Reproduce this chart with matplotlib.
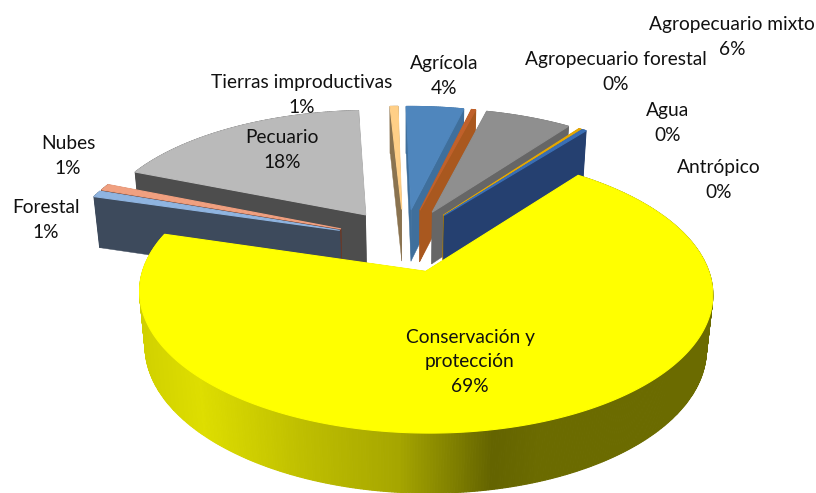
import numpy as np
import matplotlib
matplotlib.use("Agg")
import matplotlib.pyplot as plt
from matplotlib.patches import Polygon
from matplotlib.colors import to_rgb

# data, clockwise from the top of the pie
names = ["Agrícola", "Agropecuario forestal", "Agropecuario mixto", "Agua", "Antrópico",
         "Conservación y\nprotección", "Forestal", "Nubes", "Pecuario", "Tierras improductivas"]
values = [4.0, 0.3, 6.0, 0.2, 0.3, 69.05, 0.8, 0.8, 18.0, 0.55]

# colours of top face and of side walls
tops = ["#4f86bd", "#c0612b", "#8f8f8f", "#e6a800", "#3a6fb5",
        "#ffff00", "#8fb4e0", "#f0a080", "#bababa", "#ffcf87"]
walls = ["#3f6f9c", "#a9581f", "#666666", "#a87c08", "#254070",
         "#8c8c00", "#3d4a5c", "#6b3a28", "#4d4d4d", "#8a7350"]
# where each label sits, pixels
label_pos = [(444, 76), (616, 72), (732, 37), (668, 123), (719, 180),
             (470, 362), (46, 220), (68, 156), (282, 150), (302, 95)]

# camera
OX, OY = 404, 240
A, B = 273, 127
K = 0.15
M = 0.02
H = 54
EXPLODE = 0.25
START = 91.0


def project(x, y, z):
    # z=0 is the top face, z=1 the bottom
    s = 1 / (1 + K * y + M * z)
    return OX + A * x * s, OY - B * y * s + H * z * s


def yellow_shade(px):
    stops_x = [140, 200, 300, 400, 495, 540, 710]
    levels = [0.82, 0.87, 0.75, 0.65, 0.39, 0.42, 0.42]
    v = np.interp(px, stops_x, levels)
    return (v, v, 0)


fig = plt.figure(figsize=(8.16, 4.93), dpi=100)
ax = fig.add_axes([0, 0, 1, 1])
ax.set_xlim(0, 816)
ax.set_ylim(493, 0)
ax.axis("off")

# slice angles
angles = START - np.cumsum([0] + values) * 3.6
slices = []
for i in range(len(values)):
    t0, t1 = angles[i], angles[i + 1]
    slices.append((np.sin(np.radians((t0 + t1) / 2)), i, t0, t1))
# back slices first, the big one last
slices.sort(key=lambda r: (values[r[1]] > 50, -r[0]))

for _, i, t0, t1 in slices:
    mid = np.radians((t0 + t1) / 2)
    cx, cy = EXPLODE * np.cos(mid), EXPLODE * np.sin(mid)
    n = max(3, int(abs(t0 - t1)) * 2)
    th = np.radians(np.linspace(t0, t1, n))
    rx, ry = cx + np.cos(th), cy + np.sin(th)
    wall = walls[i]

    # flat side walls
    for k in (0, -1):
        pts = [project(cx, cy, 0), project(rx[k], ry[k], 0), project(rx[k], ry[k], 1), project(cx, cy, 1)]
        ax.add_patch(Polygon(pts, closed=True, fc=wall, ec=wall, lw=0.3))

    # rim, in small strips so the gradient can run along it
    for j in range(n - 1):
        pts = [project(rx[j], ry[j], 0), project(rx[j + 1], ry[j + 1], 0),
               project(rx[j + 1], ry[j + 1], 1), project(rx[j], ry[j], 1)]
        col = yellow_shade(pts[0][0]) if values[i] > 50 else to_rgb(wall)
        ax.add_patch(Polygon(pts, closed=True, fc=col, ec=col, lw=0.8))

    top = [project(cx, cy, 0)] + [project(a, b, 0) for a, b in zip(rx, ry)]
    ax.add_patch(Polygon(top, closed=True, fc=tops[i], ec=tops[i], lw=0.8))

for name, val, (x, y) in zip(names, values, label_pos):
    ax.text(x, y, f"{name}\n{val:.0f}%", ha="center", va="center", fontsize=13.8,
            family="Lato", color="#111111", linespacing=1.55)

fig.savefig("out.png", dpi=100)
